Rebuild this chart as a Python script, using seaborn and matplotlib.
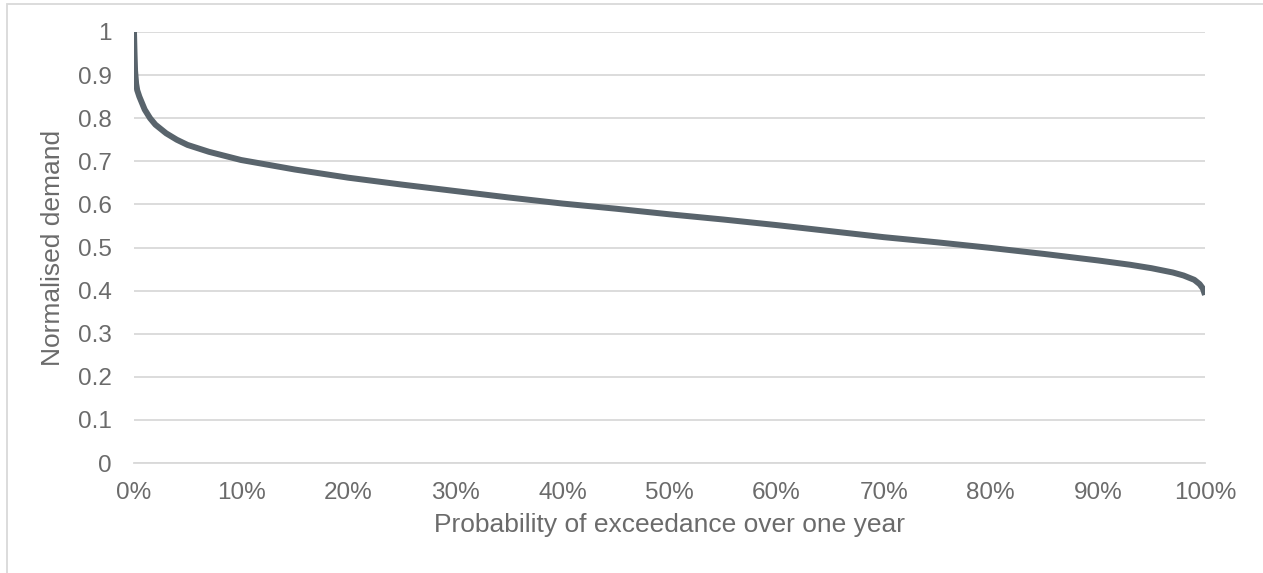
import matplotlib
matplotlib.use("Agg")
import matplotlib.pyplot as plt
import matplotlib.ticker as mticker
from matplotlib.patches import Rectangle
import seaborn as sns
import pandas as pd

# probability of exceedance (%) and normalised demand
exceedance = [0, 0.05, 0.1, 0.2, 0.3, 0.5, 0.75, 1, 1.5, 2, 3, 4, 5, 7, 10,
              15, 20, 25, 30, 35, 40, 45, 50, 55, 60, 65, 70, 75, 80, 85,
              90, 93, 95, 97, 98, 99, 99.5, 99.8, 100]
demand = [1.0, 0.95, 0.91, 0.88, 0.865, 0.85, 0.835, 0.82, 0.8, 0.785, 0.765,
          0.75, 0.738, 0.722, 0.703, 0.681, 0.662, 0.646, 0.631, 0.616,
          0.602, 0.59, 0.577, 0.565, 0.552, 0.538, 0.524, 0.512, 0.499,
          0.485, 0.47, 0.46, 0.452, 0.442, 0.435, 0.425, 0.415, 0.405, 0.39]

y_ticks = [0, 0.1, 0.2, 0.3, 0.4, 0.5, 0.6, 0.7, 0.8, 0.9, 1]
x_ticks = [0, 10, 20, 30, 40, 50, 60, 70, 80, 90, 100]

df = pd.DataFrame({"exceedance": exceedance, "demand": demand})

sns.set_style("white")
plt.rcParams["font.family"] = ["Liberation Sans", "DejaVu Sans"]

text_col = "#6b6b6b"
grid_col = "#d9d9d9"

fig = plt.figure(figsize=(12.63, 5.73), dpi=100)
ax = fig.add_axes([134 / 1263, 1 - 463 / 573, (1205 - 134) / 1263, (463 - 32) / 573])

sns.lineplot(data=df, x="exceedance", y="demand", ax=ax,
             color="#59646c", linewidth=4.3, solid_capstyle="butt")

ax.set_xlim(0, 100)
ax.set_ylim(0, 1)
ax.set_yticks(y_ticks)
ax.set_xticks(x_ticks)
ax.yaxis.set_major_formatter(mticker.FuncFormatter(lambda v, p: f"{v:g}"))
ax.xaxis.set_major_formatter(mticker.FuncFormatter(lambda v, p: f"{v:.0f}%"))

ax.grid(axis="y", color=grid_col, linewidth=1.3)
ax.set_axisbelow(True)
for s in ["top", "right", "left"]:
    ax.spines[s].set_visible(False)
ax.spines["bottom"].set_color(grid_col)
ax.spines["bottom"].set_linewidth(1.3)

ax.tick_params(axis="x", direction="out", length=5, width=1.3, color=grid_col,
               labelsize=17.5, labelcolor=text_col, pad=9)
ax.tick_params(axis="y", length=0, labelsize=17.5, labelcolor=text_col, pad=16)

ax.set_xlabel("Probability of exceedance over one year", fontsize=19,
              color=text_col, labelpad=6)
ax.set_ylabel("Normalised demand", fontsize=19, color=text_col, labelpad=9)

# chart area border (cropped on right and bottom)
fig.patches.append(Rectangle((7 / 1263, -0.1), 1.2, 1 - 4 / 573 + 0.1,
                             transform=fig.transFigure, fill=False,
                             edgecolor=grid_col, linewidth=1.3))

fig.savefig("out.png", dpi=100)
